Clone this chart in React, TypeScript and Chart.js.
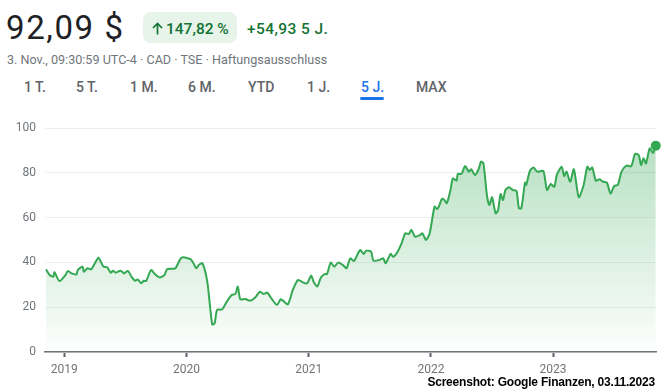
import { useEffect, useRef } from "react";
import { Chart, registerables } from "chart.js";

Chart.register(...registerables);

// Decimal year of each sample
const dates = [
  2018.85, 2018.88, 2018.91, 2018.92, 2018.96, 2019.01, 2019.03, 2019.06, 2019.10, 2019.11,
  2019.15, 2019.16, 2019.19, 2019.22, 2019.25, 2019.28, 2019.32, 2019.35, 2019.38, 2019.40,
  2019.42, 2019.46, 2019.49, 2019.52, 2019.55, 2019.58, 2019.60, 2019.63, 2019.65, 2019.67,
  2019.71, 2019.74, 2019.78, 2019.82, 2019.84, 2019.88, 2019.91, 2019.96, 2020.03, 2020.05,
  2020.08, 2020.10, 2020.13, 2020.17, 2020.21, 2020.23, 2020.25, 2020.29, 2020.33, 2020.37,
  2020.40, 2020.42, 2020.44, 2020.48, 2020.52, 2020.56, 2020.60, 2020.63, 2020.66, 2020.70,
  2020.74, 2020.77, 2020.79, 2020.83, 2020.87, 2020.91, 2020.93, 2020.97, 2020.99, 2021.02,
  2021.04, 2021.07, 2021.10, 2021.13, 2021.15, 2021.18, 2021.21, 2021.24, 2021.28, 2021.31,
  2021.34, 2021.37, 2021.42, 2021.45, 2021.47, 2021.51, 2021.53, 2021.58, 2021.61, 2021.63,
  2021.67, 2021.69, 2021.72, 2021.76, 2021.79, 2021.82, 2021.84, 2021.87, 2021.91, 2021.93,
  2021.96, 2021.99, 2022.03, 2022.05, 2022.07, 2022.09, 2022.11, 2022.13, 2022.16, 2022.18,
  2022.21, 2022.22, 2022.25, 2022.28, 2022.31, 2022.33, 2022.36, 2022.39, 2022.41, 2022.43,
  2022.46, 2022.48, 2022.50, 2022.53, 2022.55, 2022.57, 2022.59, 2022.61, 2022.64, 2022.67,
  2022.70, 2022.72, 2022.74, 2022.77, 2022.78, 2022.81, 2022.84, 2022.87, 2022.92, 2022.95,
  2022.98, 2023.01, 2023.03, 2023.07, 2023.09, 2023.11, 2023.14, 2023.17, 2023.21, 2023.25,
  2023.28, 2023.30, 2023.32, 2023.35, 2023.38, 2023.41, 2023.44, 2023.47, 2023.50, 2023.53,
  2023.56, 2023.60, 2023.64, 2023.67, 2023.70, 2023.72, 2023.74, 2023.76, 2023.79, 2023.81,
  2023.82, 2023.84,
];

// Share price in CAD
const prices = [
  36.9, 34.4, 33.6, 35.6, 31.7, 34.4, 36.2, 35.1, 34.7, 36.6,
  38.1, 35.8, 37.4, 36.9, 39.6, 42.1, 38.1, 37.8, 35.4, 36.3,
  35.4, 36.3, 35.1, 36.2, 33.6, 31.8, 32.4, 30.7, 31.8, 31.7,
  36.6, 34.8, 33.3, 34.4, 36.9, 37.2, 37.4, 42.1, 41.5, 40.3,
  37.4, 38.8, 39.6, 31.4, 12.4, 12.8, 18.8, 19.0, 22.5, 25.4,
  25.9, 29.2, 23.5, 23.7, 22.9, 24.2, 26.9, 25.9, 26.5, 23.5,
  21.0, 23.5, 22.9, 21.3, 27.7, 32.1, 31.8, 30.7, 30.9, 34.1,
  31.4, 29.2, 33.3, 34.8, 34.8, 39.9, 38.1, 39.9, 38.8, 37.4,
  41.8, 40.6, 45.5, 43.8, 45.2, 44.8, 40.8, 41.1, 41.8, 39.6,
  43.8, 42.5, 44.1, 48.5, 53.0, 52.7, 54.5, 51.5, 52.2, 53.0,
  50.0, 53.0, 64.9, 63.8, 65.6, 68.3, 67.9, 66.4, 72.3, 77.5,
  76.5, 79.5, 79.5, 83.0, 80.5, 81.6, 79.0, 81.6, 85.0, 84.2,
  69.3, 65.6, 69.1, 61.9, 63.4, 70.5, 67.9, 72.3, 73.5, 72.3,
  71.9, 64.2, 64.2, 75.6, 74.6, 80.8, 82.4, 80.5, 80.8, 72.3,
  75.0, 73.8, 79.0, 82.7, 78.6, 80.5, 76.0, 81.6, 69.1, 74.6,
  82.7, 81.3, 82.4, 76.5, 77.1, 76.0, 75.6, 70.8, 74.1, 74.6,
  80.5, 83.2, 83.0, 88.4, 87.9, 83.5, 86.5, 84.2, 90.9, 89.4,
  89.0, 92.09,
];

const yearTicks = [2019, 2020, 2021, 2022, 2023];
const rangeTabs = ["1 T.", "5 T.", "1 M.", "6 M.", "YTD", "1 J.", "5 J.", "MAX"];
const tabX = [24, 76, 130, 188, 248, 307, 361, 416];
const selectedTab = "5 J.";

const FONT = "Roboto, 'Noto Sans', Arial, sans-serif";

export default function App() {
  const ref = useRef<HTMLCanvasElement>(null);

  useEffect(() => {
    const canvas = ref.current;
    if (!canvas) return;
    const last = prices.length - 1;
    const chart = new Chart(canvas, {
      type: "line",
      data: {
        datasets: [
          {
            data: dates.map((d, i) => ({ x: d, y: prices[i] })),
            borderColor: "#34a853",
            borderWidth: 2,
            tension: 0.25,
            fill: "origin",
            clip: false as any,
            backgroundColor: (c: any) => {
              const a = c.chart.chartArea;
              if (!a) return "rgba(52,168,83,0.15)";
              const g = c.chart.ctx.createLinearGradient(0, a.top, 0, a.bottom);
              g.addColorStop(0, "rgba(52,168,83,0.38)");
              g.addColorStop(1, "rgba(52,168,83,0.01)");
              return g;
            },
            pointRadius: (c: any) => (c.dataIndex === last ? 5 : 0),
            pointHoverRadius: 0,
            pointBackgroundColor: "#34a853",
            pointBorderWidth: 0,
          },
        ],
      },
      options: {
        animation: false,
        responsive: false,
        maintainAspectRatio: false,
        layout: { padding: { top: 18, right: 9, left: 0, bottom: 0 } },
        plugins: { legend: { display: false }, tooltip: { enabled: false } },
        scales: {
          x: {
            type: "linear",
            min: 2018.842,
            max: 2023.842,
            afterBuildTicks: (s: any) => {
              s.ticks = yearTicks.map((v) => ({ value: v }));
            },
            afterFit: (s: any) => {
              s.height = 39;
            },
            border: { display: true, color: "#70757a", width: 1.5 },
            grid: {
              drawOnChartArea: false,
              drawTicks: true,
              tickLength: 5,
              tickColor: "#5f6368",
              tickWidth: 2,
            },
            ticks: {
              autoSkip: false,
              maxRotation: 0,
              padding: 6,
              color: "#70757a",
              font: { family: FONT, size: 12 },
              callback: (v: any) => String(v),
            },
          },
          y: {
            min: 0,
            max: 100,
            afterFit: (s: any) => {
              s.width = 45;
            },
            border: { display: false },
            grid: { color: "#eceef0", lineWidth: 1, drawTicks: false },
            ticks: {
              stepSize: 20,
              padding: 9,
              color: "#70757a",
              font: { family: FONT, size: 12 },
              callback: (v: any) => String(v),
            },
          },
        },
      },
    });
    return () => chart.destroy();
  }, []);

  return (
    <div
      style={{
        position: "fixed",
        left: 0,
        top: 0,
        width: 665,
        height: 391,
        background: "#fff",
        overflow: "hidden",
        fontFamily: FONT,
      }}
    >
      <div
        style={{
          position: "absolute",
          left: 6,
          top: 11,
          fontSize: 33,
          lineHeight: "33px",
          color: "#202124",
          letterSpacing: 1.6,
          whiteSpace: "nowrap",
        }}
      >
        92,09 $
      </div>
      <div
        style={{
          position: "absolute",
          left: 143,
          top: 12,
          width: 94,
          height: 31,
          borderRadius: 8,
          background: "#e6f4ea",
        }}
      />
      <svg
        width={11}
        height={13}
        viewBox="0 0 11 13"
        style={{ position: "absolute", left: 152, top: 22 }}
      >
        <path
          d="M5.5 12.5 V1.5 M1 6 L5.5 1.5 L10 6"
          fill="none"
          stroke="#137333"
          strokeWidth={1.7}
        />
      </svg>
      <div
        style={{
          position: "absolute",
          left: 166,
          top: 20,
          fontSize: 15.5,
          lineHeight: "18px",
          fontWeight: 500,
          color: "#137333",
          whiteSpace: "nowrap",
        }}
      >
        147,82 %
      </div>
      <div
        style={{
          position: "absolute",
          left: 247,
          top: 20,
          fontSize: 15.5,
          lineHeight: "18px",
          fontWeight: 500,
          color: "#137333",
          whiteSpace: "nowrap",
          letterSpacing: 0.4,
        }}
      >
        +54,93 5 J.
      </div>
      <div
        style={{
          position: "absolute",
          left: 7,
          top: 52,
          fontSize: 12.6,
          lineHeight: "16px",
          color: "#70757a",
          whiteSpace: "nowrap",
        }}
      >
        3. Nov., 09:30:59 UTC-4 · CAD · TSE · Haftungsausschluss
      </div>
      {rangeTabs.map((t, i) => (
        <div
          key={t}
          style={{
            position: "absolute",
            left: tabX[i],
            top: 79,
            fontSize: 14,
            lineHeight: "16px",
            fontWeight: 500,
            color: t === selectedTab ? "#1a73e8" : "#5f6368",
            whiteSpace: "nowrap",
          }}
        >
          {t}
        </div>
      ))}
      <div
        style={{
          position: "absolute",
          left: 360,
          top: 97,
          width: 24,
          height: 3,
          borderRadius: 2,
          background: "#1a73e8",
        }}
      />
      <canvas
        ref={ref}
        width={665}
        height={281}
        style={{ position: "absolute", left: 0, top: 110, width: 665, height: 281 }}
      />
      <div
        style={{
          position: "absolute",
          right: 10,
          top: 375,
          fontFamily: "'Liberation Sans', Arial, sans-serif",
          fontWeight: 700,
          fontSize: 12,
          lineHeight: "14px",
          letterSpacing: -0.2,
          color: "#000",
          whiteSpace: "nowrap",
        }}
      >
        Screenshot: Google Finanzen, 03.11.2023
      </div>
    </div>
  );
}
